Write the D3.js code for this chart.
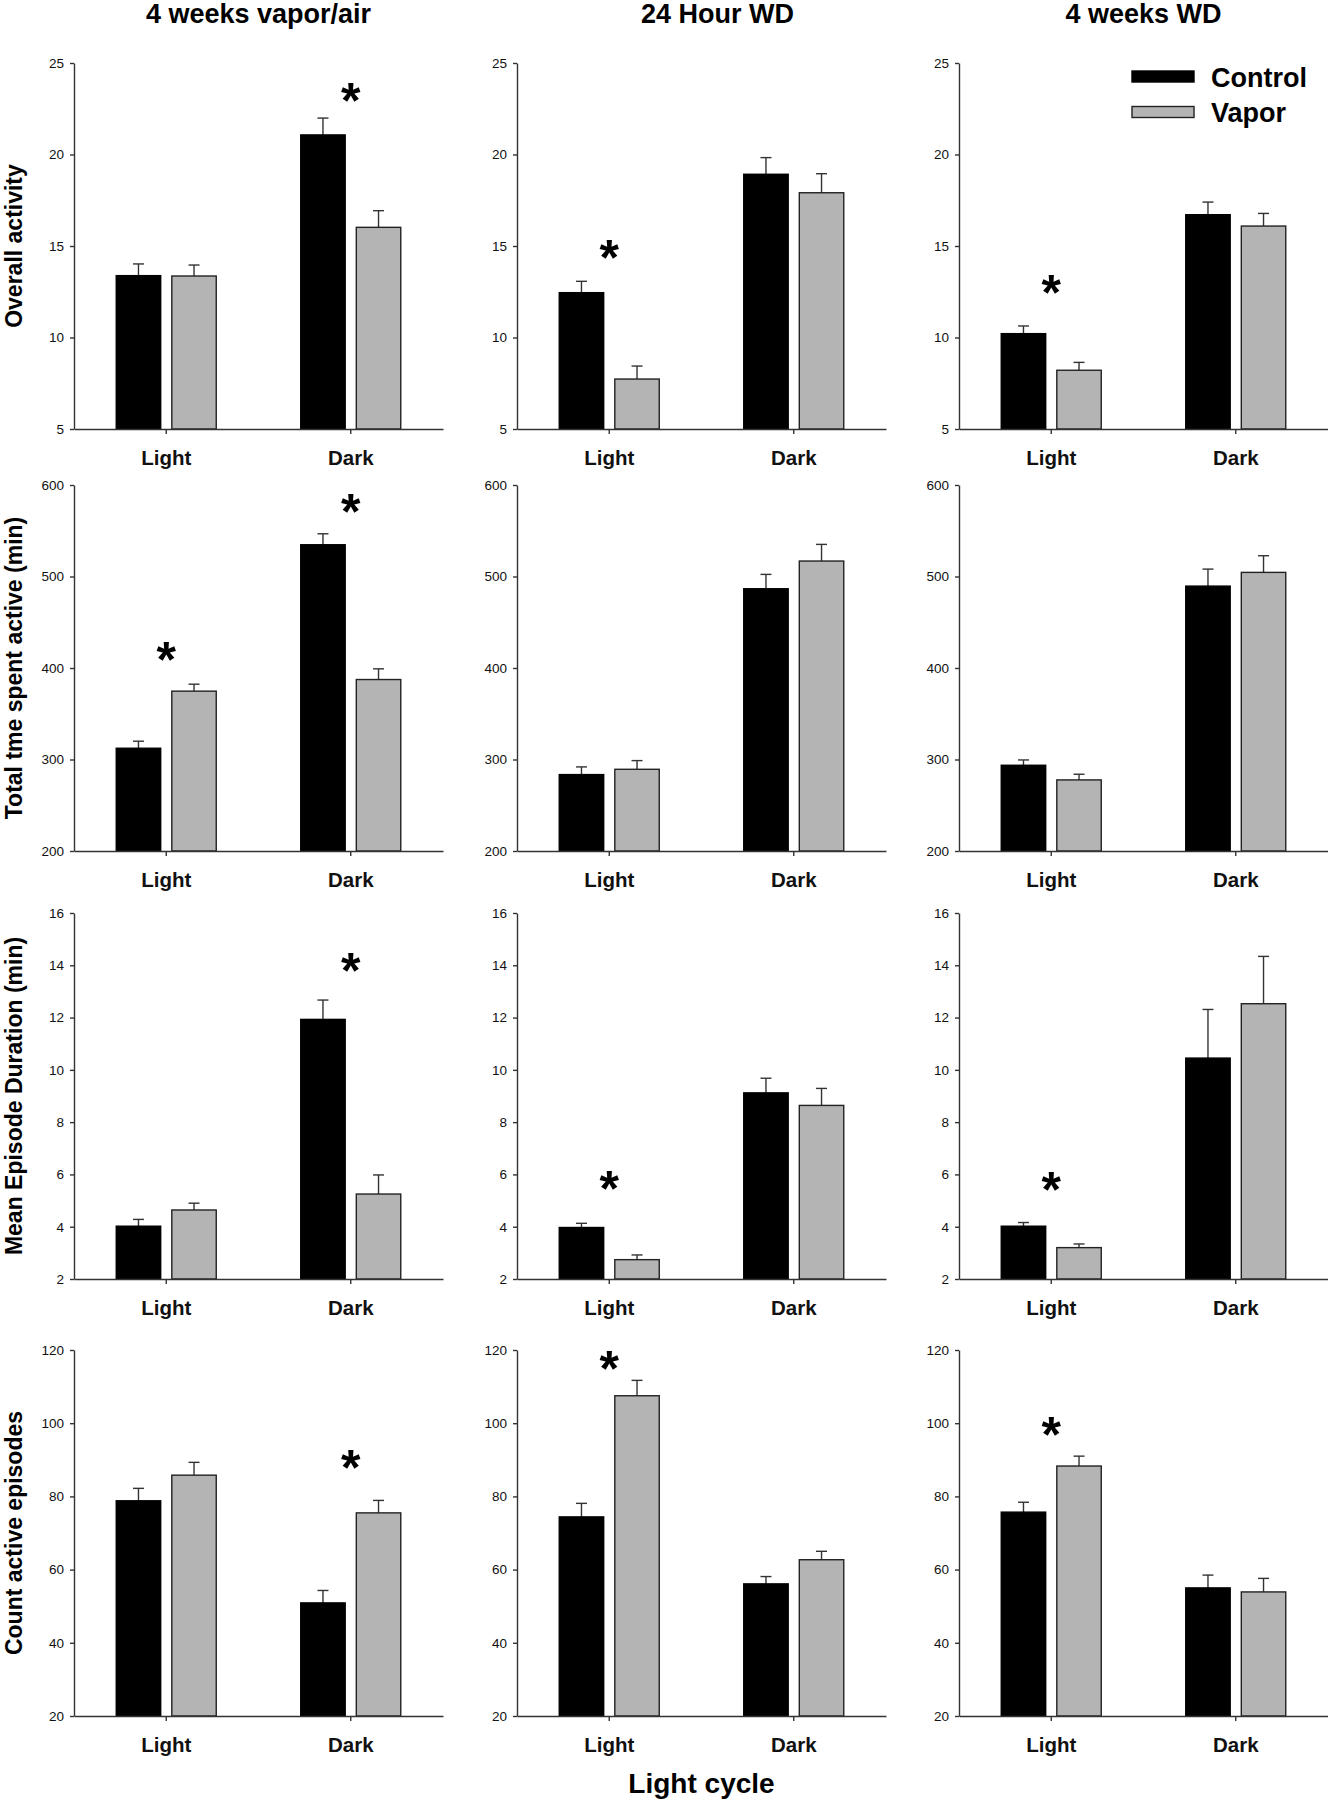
<!DOCTYPE html>
<html>
<head>
<meta charset="utf-8">
<script src="https://cdn.jsdelivr.net/npm/d3@7"></script>
<style>
  body { margin: 0; background: #fff; }
  svg { display: block; font-family: "Liberation Sans", Arial, sans-serif; }
</style>
</head>
<body>
<svg id="chart" width="1328" height="1800"></svg>
<script>
// data
const colTitles = ["4 weeks vapor/air", "24 Hour WD", "4 weeks WD"];
const rowLabels = ["Overall activity", "Total tme spent active (min)", "Mean Episode Duration (min)", "Count active episodes"];
const cycles = ["Light", "Dark"];
const groups = ["Control", "Vapor"];
const yDomains = [[5, 25], [200, 600], [2, 16], [20, 120]];
const yTicks = [
  [5, 10, 15, 20, 25],
  [200, 300, 400, 500, 600],
  [2, 4, 6, 8, 10, 12, 14, 16],
  [20, 40, 60, 80, 100, 120]
];

// [row][col] -> [Light, Dark]
const controlMean = [
  [[13.38, 21.07], [12.45, 18.92], [10.21, 16.71]],
  [[312.3, 534.7], [283.5, 486.6], [293.7, 489.5]],
  [[4.02, 11.93], [3.97, 9.12], [4.02, 10.45]],
  [[78.8, 50.9], [74.4, 56.1], [75.7, 55.0]]
];
const controlSem = [
  [[0.64, 0.92], [0.62, 0.91], [0.42, 0.69]],
  [[7.7, 12.0], [8.4, 15.7], [5.8, 18.6]],
  [[0.26, 0.74], [0.16, 0.56], [0.14, 1.86]],
  [[3.4, 3.4], [3.7, 2.0], [2.7, 3.5]]
];
const vaporMean = [
  [[13.36, 16.02], [7.73, 17.91], [8.21, 16.09]],
  [[374.7, 387.4], [289.3, 516.9], [277.7, 504.5]],
  [[4.64, 5.25], [2.74, 8.64], [3.20, 12.53]],
  [[85.8, 75.5], [107.5, 62.7], [88.3, 53.9]]
];
const vaporSem = [
  [[0.60, 0.91], [0.71, 1.04], [0.43, 0.69]],
  [[7.6, 11.7], [9.5, 18.2], [6.2, 18.2]],
  [[0.26, 0.73], [0.18, 0.65], [0.14, 1.81]],
  [[3.5, 3.4], [4.2, 2.3], [2.7, 3.7]]
];

// significance stars: row, col, cycle, height (data units)
const stars = [
  [0, 0, "Dark", 23.45], [0, 1, "Light", 14.9], [0, 2, "Light", 12.98],
  [1, 0, "Light", 419.5], [1, 0, "Dark", 581],
  [2, 0, "Dark", 14.15], [2, 1, "Light", 5.83], [2, 2, "Light", 5.79],
  [3, 0, "Dark", 90.6], [3, 1, "Light", 117.5], [3, 2, "Light", 99.5]
];

const colors = { Control: "#000", Vapor: "#b4b4b4" };

// layout
const colX = [74, 517, 959];
const rowY = [63, 485, 913, 1350];
const pw = 369, ph = 366;
const titleShift = [0, 16, 0];

const svg = d3.select("#chart");

const x0 = d3.scaleBand().domain(cycles).range([0, pw]);
const x1 = d3.scaleBand().domain(groups).range([-50, 50]).paddingInner(0.2);

rowY.forEach((ty, r) => {
  colX.forEach((tx, c) => {
    const g = svg.append("g").attr("transform", `translate(${tx},${ty})`);
    const y = d3.scaleLinear().domain(yDomains[r]).range([ph, 0]);

    const data = [];
    cycles.forEach((cy, i) => {
      data.push({ cycle: cy, group: "Control", v: controlMean[r][c][i], e: controlSem[r][c][i] });
      data.push({ cycle: cy, group: "Vapor", v: vaporMean[r][c][i], e: vaporSem[r][c][i] });
    });
    const cx = d => x0(d.cycle) + x0.bandwidth() / 2 + x1(d.group);

    // error bars (upper only)
    const eb = g.selectAll("g.err").data(data).join("g").attr("class", "err")
        .attr("stroke", "#333").attr("stroke-width", 1.4);
    eb.append("line")
        .attr("x1", d => cx(d) + x1.bandwidth() / 2).attr("x2", d => cx(d) + x1.bandwidth() / 2)
        .attr("y1", d => y(d.v)).attr("y2", d => y(d.v + d.e));
    eb.append("line")
        .attr("x1", d => cx(d) + x1.bandwidth() / 2 - 5.5).attr("x2", d => cx(d) + x1.bandwidth() / 2 + 5.5)
        .attr("y1", d => y(d.v + d.e)).attr("y2", d => y(d.v + d.e));

    g.selectAll("rect.bar").data(data).join("rect").attr("class", "bar")
        .attr("x", d => cx(d))
        .attr("width", x1.bandwidth())
        .attr("y", d => y(d.v))
        .attr("height", d => ph - y(d.v))
        .attr("fill", d => colors[d.group])
        .attr("stroke", d => d.group === "Control" ? "#000" : "#222")
        .attr("stroke-width", 1.4);

    // axes
    const ya = g.append("g")
        .call(d3.axisLeft(y).tickValues(yTicks[r]).tickSize(4).tickSizeOuter(0).tickPadding(6));
    ya.selectAll("text").attr("font-size", 13.5).attr("fill", "#111").attr("font-family", null);
    ya.selectAll("path, line").attr("stroke", "#333").attr("stroke-width", 1.4);

    const xa = g.append("g").attr("transform", `translate(0,${ph})`)
        .call(d3.axisBottom(x0).tickSize(5).tickSizeOuter(0).tickPadding(16));
    xa.selectAll("text").attr("font-size", 20.5).attr("font-weight", "bold")
        .attr("fill", "#111").attr("font-family", null);
    xa.selectAll("path, line").attr("stroke", "#333").attr("stroke-width", 1.4);

    // stars
    stars.filter(s => s[0] === r && s[1] === c).forEach(s => {
      g.append("text")
          .attr("x", x0(s[2]) + x0.bandwidth() / 2)
          .attr("y", y(s[3]) + 27)
          .attr("text-anchor", "middle")
          .attr("font-size", 50).attr("font-weight", "bold")
          .text("*");
    });

    if (r === 0) {
      svg.append("text")
          .attr("x", tx + pw / 2 + titleShift[c]).attr("y", 23)
          .attr("text-anchor", "middle")
          .attr("font-size", 27).attr("font-weight", "bold")
          .text(colTitles[c]);
    }
    if (c === 0) {
      svg.append("text")
          .attr("transform", `translate(21.5,${ty + ph / 2}) rotate(-90)`)
          .attr("text-anchor", "middle")
          .attr("font-size", 23).attr("font-weight", "bold")
          .text(rowLabels[r]);
    }
  });
});

// legend in top-right panel
const leg = svg.append("g").attr("transform", `translate(1132,76.5)`);
groups.forEach((k, i) => {
  const row = leg.append("g").attr("transform", `translate(0,${i * 35.5})`);
  row.append("rect").attr("x", 0).attr("y", -5.5).attr("width", 62).attr("height", 11)
      .attr("fill", colors[k]).attr("stroke", k === "Control" ? "#000" : "#222").attr("stroke-width", 1.4);
  row.append("text").attr("x", 79).attr("y", 10)
      .attr("font-size", 27).attr("font-weight", "bold").text(k);
});

// shared x title
svg.append("text")
    .attr("x", colX[1] + pw / 2).attr("y", 1793)
    .attr("text-anchor", "middle")
    .attr("font-size", 28).attr("font-weight", "bold")
    .text("Light cycle");
</script>
</body>
</html>
